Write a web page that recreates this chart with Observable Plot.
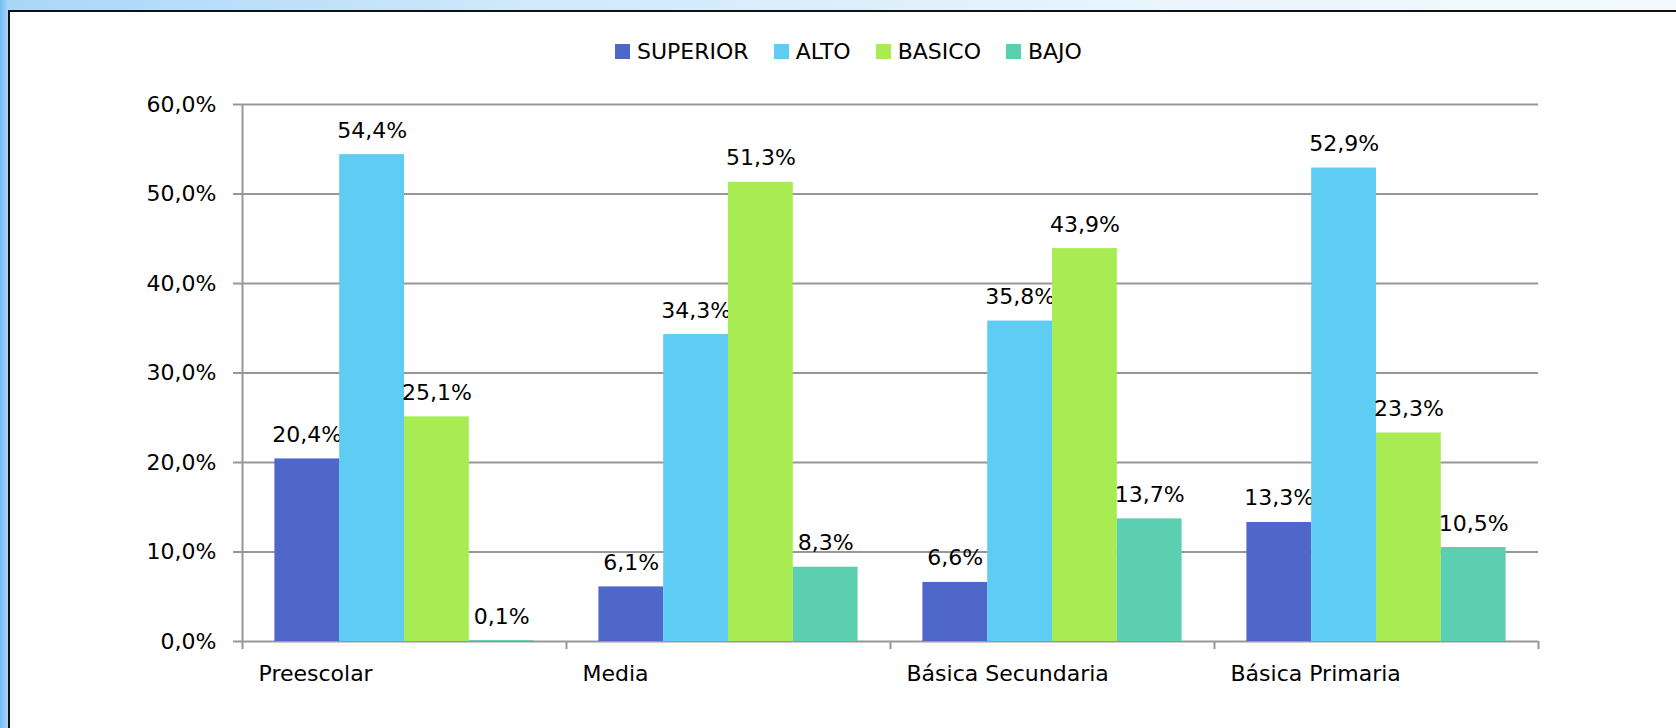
<!DOCTYPE html>
<html>
<head>
<meta charset="utf-8">
<script src="https://cdn.jsdelivr.net/npm/d3@7"></script>
<script src="https://cdn.jsdelivr.net/npm/@observablehq/plot@0.6"></script>
<style>
  html, body { margin: 0; padding: 0; width: 1676px; height: 728px; overflow: hidden; }
  body {
    background: linear-gradient(90deg, #74bcf3 0px, #a9d6f8 8px, #cfe8fb 30%, #eaf5fd 70%, #f4fafe 100%);
    font-family: "DejaVu Sans", sans-serif;
  }
  #panel {
    position: absolute; left: 8px; top: 10px; width: 1700px; height: 740px;
    background: #ffffff; border-top: 2px solid #111; border-left: 2px solid #111;
  }
  #legend {
    height: 78px; display: flex; align-items: center; padding-left: 605px;
    font-size: 22px; color: #000;
  }
  .item { display: flex; align-items: center; margin-right: 25px; }
  .sw { width: 15px; height: 15px; margin-right: 7px; }
</style>
</head>
<body>
<div id="panel">
  <div id="legend"></div>
  <div id="chart"></div>
</div>
<script>
const categories = ["Preescolar", "Media", "Básica Secundaria", "Básica Primaria"];
const series = ["SUPERIOR", "ALTO", "BASICO", "BAJO"];
const superior = [20.4, 6.1, 6.6, 13.3];
const alto = [54.4, 34.3, 35.8, 52.9];
const basico = [25.1, 51.3, 43.9, 23.3];
const bajo = [0.1, 8.3, 13.7, 10.5];
const colors = ["#4f67c8", "#5fcdf3", "#a9eb52", "#5dcfb1"];
const yTicks = [0, 10, 20, 30, 40, 50, 60];

const valuesBySeries = [superior, alto, basico, bajo];
const rows = [];
series.forEach((s, j) => {
  categories.forEach((c, i) => {
    rows.push({series: s, category: c, ci: i, sj: j, value: valuesBySeries[j][i]});
  });
});
const nS = series.length;
const slot = nS + 1;
const x1 = d => d.ci + (d.sj + 0.5) / slot;
const x2 = d => d.ci + (d.sj + 1.5) / slot;
const xm = d => d.ci + (d.sj + 1) / slot;
const fmt = v => v.toFixed(1).replace(".", ",") + "%";
const boundaries = d3.range(categories.length + 1);

// legend
const legend = document.getElementById("legend");
series.forEach((s, j) => {
  const it = document.createElement("div");
  it.className = "item";
  const sw = document.createElement("div");
  sw.className = "sw";
  sw.style.background = colors[j];
  const t = document.createElement("span");
  t.textContent = s;
  it.appendChild(sw); it.appendChild(t);
  legend.appendChild(it);
});

const gridColor = "#979797";
const marks = [
  Plot.ruleY(yTicks, {x1: 0, x2: categories.length, y: d => d, stroke: gridColor, strokeWidth: 2, insetLeft: -9}),
  Plot.ruleX([0], {x: d => d, y1: 0, y2: d3.max(yTicks), stroke: gridColor, strokeWidth: 2}),
  Plot.ruleX(boundaries, {x: d => d, y1: 0, y2: 0, insetBottom: -8, stroke: gridColor, strokeWidth: 2}),
  Plot.axisY({ticks: yTicks, tickSize: 0, tickPadding: 26, tickFormat: fmt, fill: "#000", label: null})
];
series.forEach((s, j) => {
  const data = rows.filter(r => r.series === s);
  marks.push(Plot.rectY(data, {x1, x2, y1: 0, y2: "value", fill: colors[j]}));
  marks.push(Plot.text(data, {x: xm, y: "value", text: d => fmt(d.value), lineAnchor: "bottom", dy: -17, fill: "#000"}));
});
marks.push(Plot.text(categories, {x: (d, i) => i, y: 0, text: d => d, textAnchor: "start", lineAnchor: "top", dx: 16, dy: 24, fill: "#000"}));

const chart = Plot.plot({
  width: 1666,
  height: 638,
  marginLeft: 232,
  marginRight: 138,
  marginTop: 14,
  marginBottom: 87,
  x: {type: "linear", domain: [0, categories.length], axis: null},
  y: {domain: [0, d3.max(yTicks)], axis: null},
  style: {fontFamily: "DejaVu Sans", fontSize: "22px", background: "transparent", color: "#000"},
  marks
});
document.getElementById("chart").appendChild(chart);
</script>
</body>
</html>
